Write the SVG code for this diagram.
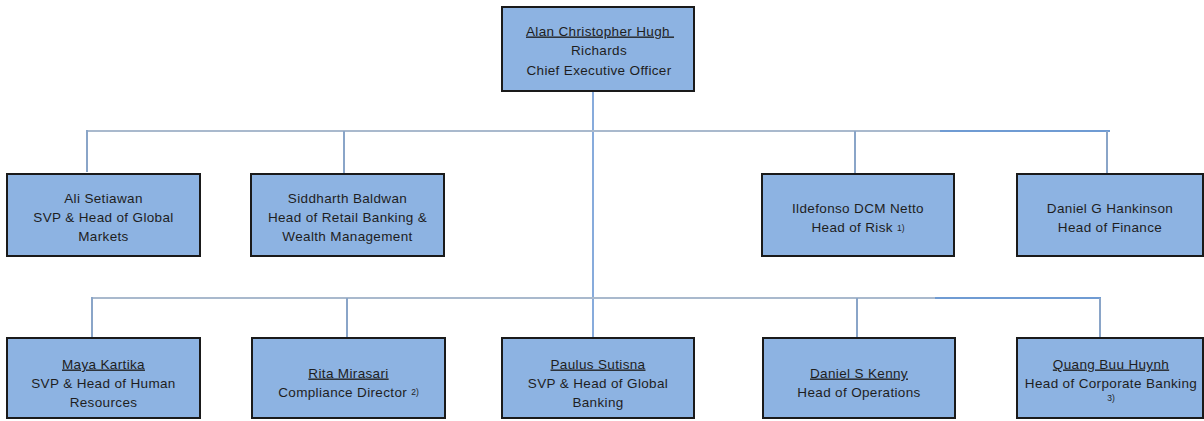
<svg xmlns="http://www.w3.org/2000/svg" width="1204" height="421" viewBox="0 0 1204 421">
<style>
.box{fill:#8db3e2;stroke:#1a1a1a;stroke-width:2}
text{font-family:"Liberation Sans",Arial,sans-serif;font-size:13.5px;fill:#1e1e1e;text-anchor:middle;letter-spacing:0.35px}
.u{text-decoration:underline}
.sup{font-size:8.5px;letter-spacing:0}
.g{stroke:#a9b9cd;stroke-width:2;fill:none}
.b{stroke:#6f9bd3;stroke-width:2;fill:none}
.v{stroke:#8aa5c8;stroke-width:2;fill:none}
.m{stroke:#5f8fd0;stroke-width:1.5;fill:none}
</style>
<rect width="1204" height="421" fill="#ffffff"/>
<g id="connectors">
<line class="m" x1="593" y1="91" x2="593" y2="338"/>
<line class="g" x1="87" y1="131" x2="940" y2="131"/>
<line class="b" x1="940" y1="131" x2="1110" y2="131"/>
<line class="v" x1="87" y1="130" x2="87" y2="172"/>
<line class="v" x1="344" y1="131" x2="344" y2="174"/>
<line class="v" x1="855" y1="131" x2="855" y2="174"/>
<line class="v" x1="1107" y1="131" x2="1107" y2="174"/>
<line class="g" x1="92" y1="298" x2="935" y2="298"/>
<line class="b" x1="935" y1="298" x2="1101" y2="298"/>
<line class="v" x1="92" y1="297" x2="92" y2="337"/>
<line class="v" x1="347" y1="298" x2="347" y2="338"/>
<line class="v" x1="857" y1="298" x2="857" y2="338"/>
<line class="v" x1="1100" y1="298" x2="1100" y2="338"/>
</g>
<g id="ceo">
<rect class="box" x="502" y="7" width="192" height="84"/>
<text x="600" y="35.5" class="u">Alan Christopher Hugh&#160;</text>
<text x="599" y="55">Richards</text>
<text x="599" y="74.5">Chief Executive Officer</text>
</g>
<g id="ali">
<rect class="box" x="7" y="174" width="193" height="82"/>
<text x="103.5" y="202.5">Ali Setiawan</text>
<text x="103.5" y="221.5">SVP &amp; Head of Global</text>
<text x="103.5" y="241">Markets</text>
</g>
<g id="siddharth">
<rect class="box" x="251" y="174" width="193" height="82"/>
<text x="347.5" y="202.5">Siddharth Baldwan</text>
<text x="347.5" y="221.5">Head of Retail Banking &amp;</text>
<text x="347.5" y="241">Wealth Management</text>
</g>
<g id="ildefonso">
<rect class="box" x="762" y="174" width="192" height="82"/>
<text x="858" y="212.5">Ildefonso DCM Netto</text>
<text x="858" y="231.5">Head of Risk <tspan class="sup" dy="-1">1)</tspan></text>
</g>
<g id="hankinson">
<rect class="box" x="1017" y="174" width="186" height="82"/>
<text x="1110" y="212.5">Daniel G Hankinson</text>
<text x="1110" y="231.5">Head of Finance</text>
</g>
<g id="maya">
<rect class="box" x="7" y="338" width="193" height="80"/>
<text x="103.5" y="368.5" class="u">Maya Kartika</text>
<text x="103.5" y="387.5">SVP &amp; Head of Human</text>
<text x="103.5" y="406.5">Resources</text>
</g>
<g id="rita">
<rect class="box" x="252" y="338" width="193" height="80"/>
<text x="348.5" y="377.5" class="u">Rita Mirasari</text>
<text x="348.5" y="396.5">Compliance Director <tspan class="sup" dy="-2">2)</tspan></text>
</g>
<g id="paulus">
<rect class="box" x="502" y="338" width="192" height="80"/>
<text x="598" y="368.5" class="u">Paulus Sutisna</text>
<text x="598" y="387.5">SVP &amp; Head of Global</text>
<text x="598" y="406.5">Banking</text>
</g>
<g id="kenny">
<rect class="box" x="763" y="338" width="192" height="80"/>
<text x="859" y="377.5" class="u">Daniel S Kenny</text>
<text x="859" y="396.5">Head of Operations</text>
</g>
<g id="quang">
<rect class="box" x="1017" y="338" width="186" height="80"/>
<text x="1111" y="368.5" class="u">Quang Buu Huynh</text>
<text x="1111" y="388">Head of Corporate Banking</text>
<text x="1111" y="401" class="sup">3)</text>
</g>
</svg>
